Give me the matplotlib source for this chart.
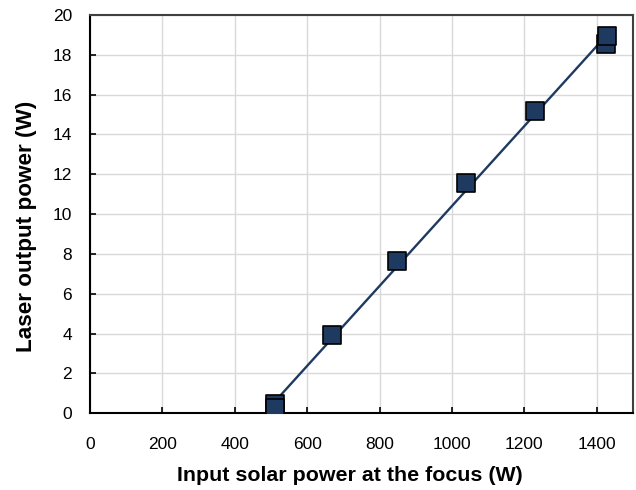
import numpy as np
import matplotlib
matplotlib.use("Agg")
import matplotlib.pyplot as plt

plt.rcParams['font.family'] = ['Liberation Sans', 'DejaVu Sans']

# Data
input_power = [511, 511, 669, 849, 1039, 1230, 1425, 1429]
laser_power = [0.45, 0.25, 3.93, 7.65, 11.56, 15.19, 18.53, 18.97]
x_ticks = [0, 200, 400, 600, 800, 1000, 1200, 1400]
y_ticks = [0, 2, 4, 6, 8, 10, 12, 14, 16, 18, 20]

navy = '#1f3a60'

fig = plt.figure(figsize=(6.36, 4.90), dpi=100)
ax = fig.add_axes([0.1415, 0.1565, 0.9953 - 0.1415, 0.9694 - 0.1565])

# linear fit line
coef = np.polyfit(input_power, laser_power, 1)
xs = np.array([min(input_power), max(input_power)])
ax.plot(xs, np.polyval(coef, xs), color=navy, lw=1.7, zorder=3)

ax.scatter(input_power, laser_power, marker='s', s=170, facecolor=navy,
           edgecolor='black', linewidth=1.2, zorder=4)

ax.set_xlim(0, 1500)
ax.set_ylim(0, 20)
ax.set_xticks(x_ticks)
ax.set_yticks(y_ticks)
ax.grid(True, color='#d9d9d9', lw=1.0)
ax.set_axisbelow(True)
ax.tick_params(direction='in', length=4, width=1.2, labelsize=12.5,
               colors='black')
ax.tick_params(axis='x', pad=17)
ax.tick_params(axis='y', pad=13)

for s in ['left', 'bottom']:
    ax.spines[s].set_color('black')
    ax.spines[s].set_linewidth(1.5)
for s in ['top', 'right']:
    ax.spines[s].set_color('#404040')
    ax.spines[s].set_linewidth(1.5)

ax.set_xlabel('Input solar power at the focus (W)', fontsize=15.4,
              fontweight='bold')
ax.set_ylabel('Laser output power (W)', fontsize=16.2, fontweight='bold')
ax.xaxis.set_label_coords(0.479, -0.133)
ax.yaxis.set_label_coords(-0.098, 0.47)

fig.savefig('out.png', dpi=100)
